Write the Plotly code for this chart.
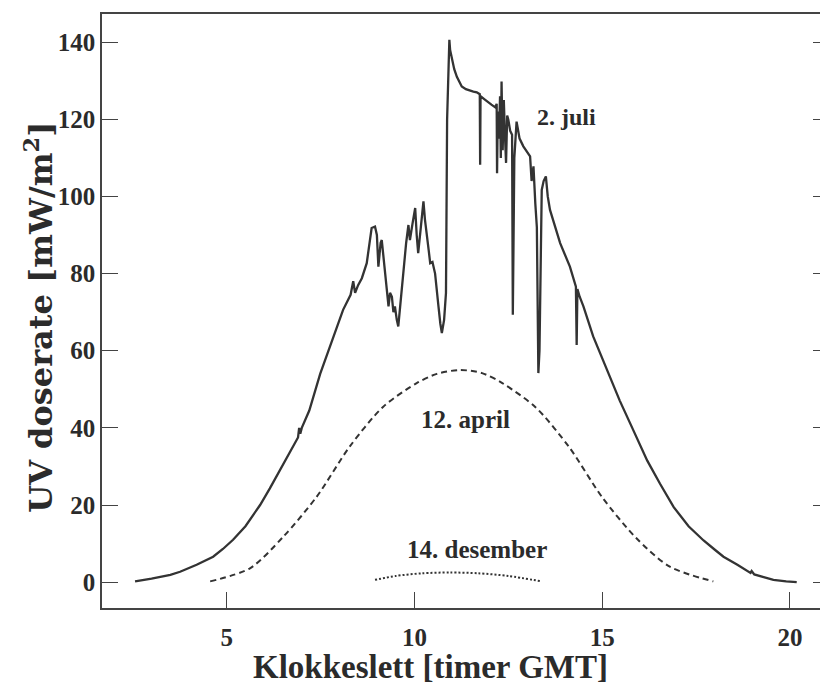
import plotly.graph_objects as go

# UV dose rate measurements, hour of day (GMT) vs. mW/m^2
juli_timer = [
    2.56, 3.0, 3.5, 3.76, 4.2, 4.64, 4.9, 5.17, 5.5, 5.89, 6.15, 6.42, 6.8, 6.9,
    6.93, 6.96, 7.0, 7.2, 7.49, 7.75, 8.1, 8.3, 8.37, 8.42, 8.5, 8.6, 8.73, 8.86,
    8.95, 9.0, 9.04, 9.1, 9.13, 9.2, 9.26, 9.31, 9.35, 9.40, 9.44, 9.48, 9.53,
    9.57, 9.62, 9.7, 9.78, 9.84, 9.88, 9.95, 10.02, 10.06, 10.1, 10.17, 10.24,
    10.28, 10.33, 10.38, 10.42, 10.48, 10.55, 10.6, 10.64, 10.69, 10.73, 10.79,
    10.84, 10.87, 10.93, 10.95, 10.99, 11.06, 11.13, 11.2, 11.26, 11.37, 11.48,
    11.57, 11.66, 11.74, 11.75, 11.76, 11.85, 11.93, 12.05, 12.15, 12.19, 12.2,
    12.22, 12.25, 12.28, 12.3, 12.32, 12.35, 12.38, 12.41, 12.44, 12.47, 12.5,
    12.55, 12.6, 12.62, 12.66, 12.72, 12.8, 12.9, 13.0, 13.08, 13.12, 13.17,
    13.22, 13.26, 13.3, 13.33, 13.39, 13.44, 13.5, 13.55, 13.61, 13.66, 13.88,
    14.14, 14.3, 14.32, 14.34, 14.4, 14.5, 14.76, 14.94, 15.2, 15.47, 15.8, 16.2,
    16.54, 16.9, 17.3, 17.7, 18.0, 18.23, 18.6, 18.95, 18.98, 19.05, 19.3, 19.56,
    19.9, 20.18,
]
juli_uv = [
    0.2, 0.9, 1.9, 2.7, 4.5, 6.6, 8.6, 11.0, 14.5, 20.0, 24.3, 29.0, 36.0, 37.5,
    40.0, 38.5, 40.0, 44.5, 54.0, 61.0, 70.6, 74.5, 78.0, 75.0, 77.0, 78.8, 82.7, 91.8,
    92.2, 90.0, 81.8, 88.0, 88.7, 82.0, 76.6, 71.5, 75.0, 74.0, 70.0, 71.5, 68.0,
    66.3, 71.5, 80.0, 88.0, 92.6, 88.7, 93.0, 97.0, 90.0, 85.3, 92.0, 98.7,
    94.0, 90.5, 86.0, 82.7, 83.0, 80.0, 76.0, 71.5, 67.0, 64.6, 68.0,
    75.0, 120.0, 140.6, 138.0, 136.3, 133.0, 131.0, 129.5, 128.5, 127.8, 127.4,
    127.2, 127.0, 126.5, 108.2, 126.0, 125.3, 124.6, 123.8, 123.1, 124.0, 106.0,
    122.0, 115.0, 126.0, 110.0, 129.8, 112.0, 125.0, 116.0, 108.7, 121.0, 119.9,
    117.0, 116.0, 69.3, 110.0, 119.4, 115.0, 113.0, 111.5, 110.4, 104.0, 107.8,
    98.0, 92.0, 54.2, 60.0, 101.7, 104.0, 105.2, 100.0, 96.5, 94.8, 87.9,
    81.8, 76.6, 61.5, 76.0, 74.0, 71.5, 63.7, 59.4, 53.0, 47.0, 40.0, 31.5,
    25.5, 19.5, 14.5, 10.8, 8.4, 6.6, 4.5, 2.4, 2.9, 2.0, 1.3, 0.6,
    0.2, 0.0,
]

april_timer = [4.56, 5.62, 6.51, 7.4, 8.28, 9.17, 10.06, 10.6, 11.21,
               11.8, 12.34, 13.23, 14.12, 15.0, 15.9, 16.8, 17.96]
april_uv = [0.2, 3.6, 11.8, 22.2, 35.2, 45.5, 51.6, 54.0, 55.0,
            54.2, 51.6, 45.3, 35.0, 22.0, 11.5, 4.0, 0.2]

desember_timer = [8.95, 9.5, 10.2, 10.95, 11.7, 12.5, 13.39]
desember_uv = [0.6, 1.6, 2.3, 2.5, 2.3, 1.6, 0.2]

y_ticks = [0, 20, 40, 60, 80, 100, 120, 140]
x_ticks = [5, 10, 15, 20]

serif = "Liberation Serif"
ink = "#2b2b2b"

fig = go.Figure()
fig.add_trace(go.Scatter(x=juli_timer, y=juli_uv, mode="lines",
                         line=dict(color="#333333", width=2.3)))
fig.add_trace(go.Scatter(x=april_timer, y=april_uv, mode="lines",
                         line=dict(color="#333333", width=2, dash="6px,4px",
                                   shape="spline", smoothing=0.8)))
fig.add_trace(go.Scatter(x=desember_timer, y=desember_uv, mode="lines",
                         line=dict(color="#333333", width=2, dash="2px,2px",
                                   shape="spline", smoothing=0.8)))
# right-hand tick marks
fig.add_trace(go.Scatter(x=[None], y=[None], yaxis="y2", showlegend=False,
                         hoverinfo="skip"))

fig.update_layout(
    width=820, height=688,
    margin=dict(l=102, r=0, t=14, b=80),
    paper_bgcolor="white", plot_bgcolor="white",
    showlegend=False,
    font=dict(family=serif, color=ink, size=25, weight="bold"),
    xaxis=dict(
        range=[1.68, 20.80], tickvals=x_ticks, ticks="inside", ticklen=16,
        tickwidth=1.3, tickcolor="#444", showline=True, linecolor="#444",
        linewidth=1.5, mirror=True, showgrid=False, zeroline=False,
        tickfont=dict(family=serif, size=25, color=ink, weight="bold"),
        ticklabelstandoff=6,
    ),
    yaxis=dict(
        range=[-6.7, 147.3], tickvals=y_ticks, ticks="inside", ticklen=16,
        tickwidth=1.3, tickcolor="#444", showline=True, linecolor="#444",
        linewidth=1.5, mirror=False, showgrid=False, zeroline=False,
        tickfont=dict(family=serif, size=25, color=ink, weight="bold"),
        ticklabelstandoff=0,
    ),
    yaxis2=dict(
        range=[-6.7, 147.3], tickvals=y_ticks, overlaying="y", side="right",
        ticks="inside", ticklen=7, tickwidth=1.3, tickcolor="#444",
        showticklabels=False, showline=False, showgrid=False, zeroline=False,
    ),
)

fig.add_annotation(text="Klokkeslett [timer GMT]", xref="paper", yref="paper",
                   x=0.457, y=-0.1, xanchor="center", yanchor="middle",
                   showarrow=False,
                   font=dict(family=serif, size=33, color=ink, weight="bold"))
fig.add_annotation(text="UV doserate [mW/m<sup>2</sup>]", xref="paper", yref="paper",
                   x=-0.088, y=0.49, xanchor="center", yanchor="middle",
                   textangle=-90, showarrow=False,
                   font=dict(family="DejaVu Serif", size=32, color=ink,
                             weight="bold"))

fig.add_annotation(text="2. juli", x=14.04, y=120.6, showarrow=False,
                   font=dict(family=serif, size=24, color=ink, weight="bold"))
fig.add_annotation(text="12. april", x=11.35, y=42.1, showarrow=False,
                   font=dict(family=serif, size=25, color=ink, weight="bold"))
fig.add_annotation(text="14. desember", x=11.67, y=8.4, showarrow=False,
                   font=dict(family=serif, size=25, color=ink, weight="bold"))

fig.write_html("out.html")
